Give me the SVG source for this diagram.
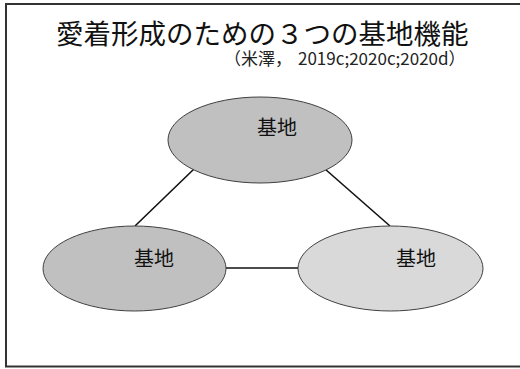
<svg xmlns="http://www.w3.org/2000/svg" width="520" height="369" viewBox="0 0 520 369">
<style>
.node{stroke:#404040;stroke-width:1}
.lbl{font-family:"Noto Sans CJK JP","Noto Sans CJK SC",sans-serif;font-size:20px;fill:#111;text-anchor:middle}
.edge{stroke:#111;stroke-width:1.6;fill:none}
</style>
<rect x="0" y="0" width="520" height="369" fill="#fff"/>
<rect x="6" y="4" width="520" height="362.5" fill="none" stroke="#333" stroke-width="2"/>
<text x="56" y="44" font-family="Noto Sans CJK JP, Noto Sans CJK SC, sans-serif" font-size="27.5" fill="#111">愛着形成のための３つの基地機能</text>
<text y="64.5" font-family="Noto Sans CJK JP, Noto Sans CJK SC, sans-serif" font-size="17" fill="#222"><tspan x="224">（米澤，</tspan><tspan x="298">2019c;2020c;2020d</tspan><tspan>）</tspan></text>
<g id="connectors">
<line class="edge" x1="194" y1="169" x2="135" y2="226"/>
<line class="edge" x1="325" y1="169" x2="390" y2="226"/>
<line class="edge" x1="226" y1="268" x2="298" y2="268"/>
</g>
<g id="node-top">
<ellipse class="node" cx="260" cy="140" rx="92" ry="43" fill="#c0c0c0"/>
<text class="lbl" x="277" y="135">基地</text>
</g>
<g id="node-left">
<ellipse class="node" cx="134.5" cy="268.5" rx="91.5" ry="42.5" fill="#c0c0c0"/>
<text class="lbl" x="154" y="266">基地</text>
</g>
<g id="node-right">
<ellipse class="node" cx="390.5" cy="268.5" rx="92.5" ry="42.5" fill="#d9d9d9"/>
<text class="lbl" x="416" y="266">基地</text>
</g>
</svg>
